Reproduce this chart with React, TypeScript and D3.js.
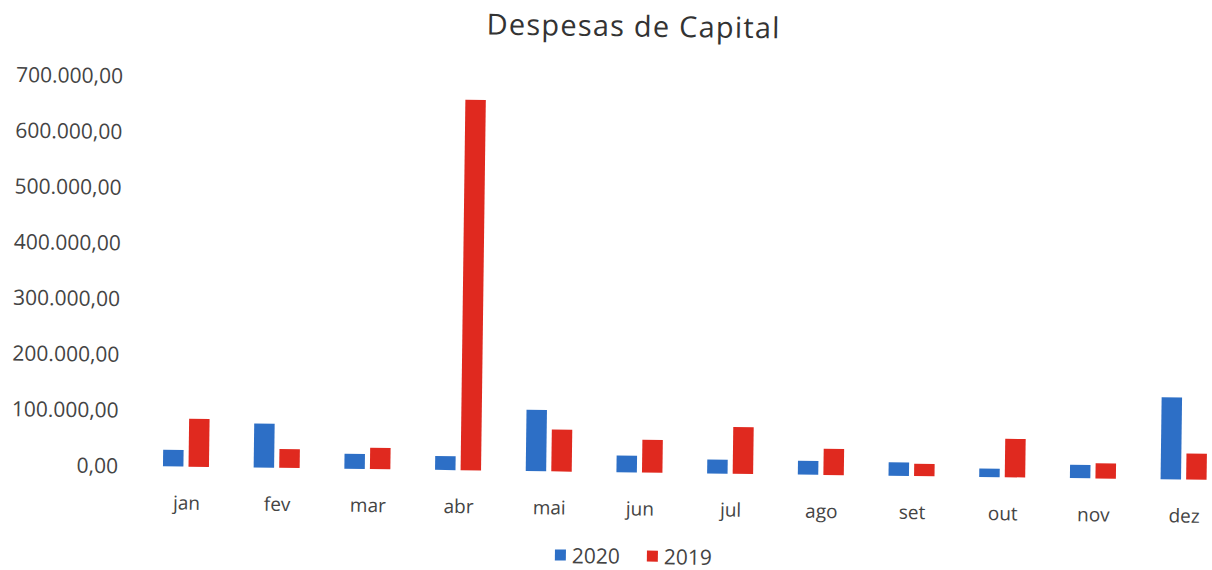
import React from 'react';
import * as d3 from 'd3';

const months = ['jan', 'fev', 'mar', 'abr', 'mai', 'jun', 'jul', 'ago', 'set', 'out', 'nov', 'dez'];
const series = ['2020', '2019'];
const values2020 = [30000, 79000, 27000, 25000, 110000, 30000, 25000, 25000, 24000, 15000, 24000, 147000];
const values2019 = [86000, 34000, 38000, 665000, 75000, 59000, 84000, 47000, 22000, 69000, 27000, 47000];
const yTicks = [0, 100000, 200000, 300000, 400000, 500000, 600000, 700000];
const colors = ['#2d6fc6', '#e0291f'];

const fmt = (v: number) =>
  d3.format(',.2f')(v).replace(/,/g, '#').replace('.', ',').replace(/#/g, '.');

export default function App() {
  const width = 1212;
  const height = 570;
  const y0 = 472;
  const yTop = 82;

  const x = d3.scaleBand<string>().domain(months).range([140.6, 1229]);
  const groupW = 46;
  const xs = d3.scaleBand<string>().domain(series).range([0, groupW]).paddingInner(0.2);
  const y = d3.scaleLinear().domain([0, 700000]).range([y0, yTop]);
  const off = (x.bandwidth() - groupW) / 2;

  const data = [values2020, values2019];
  const font = "'Open Sans', sans-serif";

  return (
    <svg
      width={width}
      height={height}
      style={{ position: 'absolute', left: 0, top: 0, background: '#fff' }}
    >
      <g transform="rotate(0.74, 600, 470)">
        <text x={628} y={36} textAnchor="middle" fontFamily={font} fontSize={29} letterSpacing={1.2} fill="#333">
          Despesas de Capital
        </text>
        {yTicks.map(t => (
          <text key={t} x={118} y={y(t)} dy="0.36em" textAnchor="end" fontFamily={font} fontSize={21} fill="#444">
            {fmt(t)}
          </text>
        ))}
        {months.map((m, i) => (
          <g key={m}>
            {series.map((s, k) => (
              <rect
                key={s}
                x={(x(m) as number) + off + (xs(s) as number)}
                width={xs.bandwidth()}
                y={y(data[k][i])}
                height={y0 - y(data[k][i])}
                fill={colors[k]}
              />
            ))}
            <text
              x={(x(m) as number) + x.bandwidth() / 2 + 1}
              y={y0 + 43}
              textAnchor="middle"
              fontFamily={font}
              fontSize={19}
              fill="#444"
            >
              {m}
            </text>
          </g>
        ))}
        {series.map((s, k) => (
          <g key={s} transform={`translate(${556 + k * 92}, 550)`}>
            <rect x={0} y={0} width={11} height={11} fill={colors[k]} />
            <text x={17} y={13.5} fontFamily={font} fontSize={21} fill="#444">
              {s}
            </text>
          </g>
        ))}
      </g>
    </svg>
  );
}
